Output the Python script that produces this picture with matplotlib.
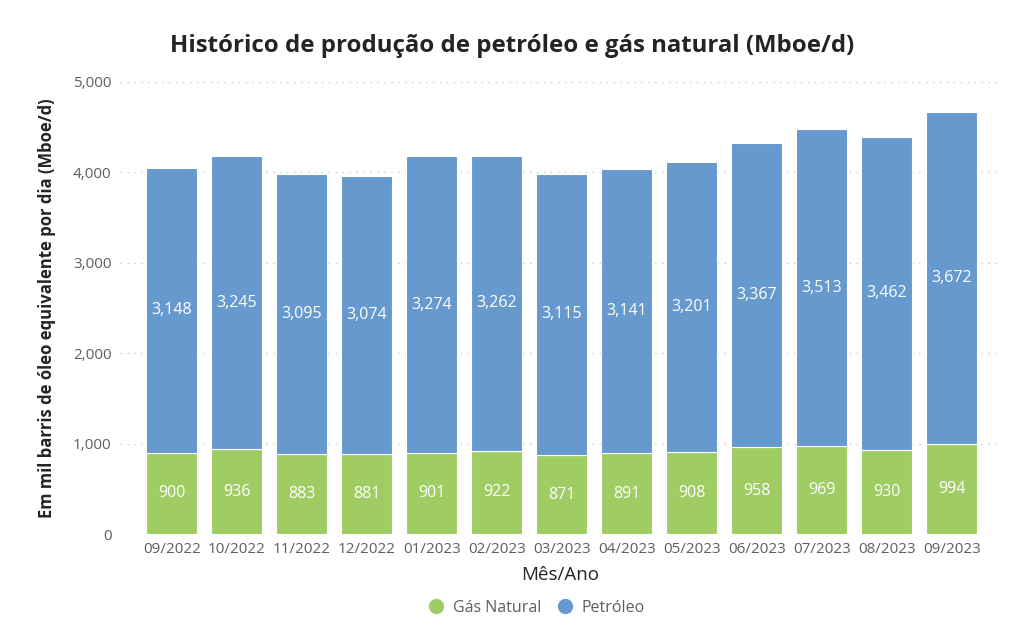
import numpy as np
import matplotlib.pyplot as plt
import matplotlib.ticker as ticker
from matplotlib.lines import Line2D

# ── Dados ────────────────────────────────────────────────────────────────────
meses = ["09/2022", "10/2022", "11/2022", "12/2022", "01/2023", "02/2023", "03/2023",
         "04/2023", "05/2023", "06/2023", "07/2023", "08/2023", "09/2023"]
gas = [900, 936, 883, 881, 901, 922, 871, 891, 908, 958, 969, 930, 994]
petroleo = [3148, 3245, 3095, 3074, 3274, 3262, 3115, 3141, 3201, 3367, 3513, 3462, 3672]

COR_GAS = "#A0CD63"
COR_PET = "#6699CE"

plt.rcParams["font.family"] = ["Open Sans", "DejaVu Sans"]

fig = plt.figure(figsize=(10.24, 6.25), dpi=100)
ax = fig.add_axes([0.117, 0.1456, 0.86, 0.7234])

x = np.arange(len(meses))
gas = np.array(gas)
petroleo = np.array(petroleo)

ax.bar(x, gas, width=0.78, color=COR_GAS, edgecolor="white", linewidth=0.8, zorder=3)
ax.bar(x, petroleo, width=0.78, bottom=gas, color=COR_PET, edgecolor="white",
       linewidth=0.8, zorder=3)

for i in range(len(meses)):
    ax.text(x[i], gas[i] / 2, f"{gas[i]:,}", ha="center", va="center",
            color="white", fontsize=11.5, zorder=4)
    ax.text(x[i], gas[i] + petroleo[i] / 2, f"{petroleo[i]:,}", ha="center",
            va="center", color="white", fontsize=11.5, zorder=4)

ax.set_xlim(-0.8, 12.75)
ax.set_ylim(0, 5000)
ax.set_xticks(x)
ax.set_xticklabels(meses)
ax.set_yticks(np.arange(0, 5001, 1000))
ax.yaxis.set_major_formatter(ticker.FuncFormatter(lambda v, p: f"{int(v):,}"))
ax.tick_params(axis="both", length=0, labelsize=11, labelcolor="#605E5C", pad=6)
ax.grid(axis="y", color="#C8C8C8", linestyle=(0, (1, 4)), linewidth=1, zorder=0)
for s in ax.spines.values():
    s.set_visible(False)

ax.set_xlabel("Mês/Ano", fontsize=13.5, color="#252423", labelpad=6)
ax.set_ylabel("Em mil barris de óleo equivalente por dia (Mboe/d)", fontsize=12,
              fontweight="bold", color="#252423", labelpad=12)
fig.suptitle("Histórico de produção de petróleo e gás natural (Mboe/d)",
             fontsize=17.3, fontweight="bold", color="#252423", y=0.945)

handles = [Line2D([], [], marker="o", linestyle="", markersize=10, color=COR_GAS),
           Line2D([], [], marker="o", linestyle="", markersize=10, color=COR_PET)]
fig.legend(handles, ["Gás Natural", "Petróleo"], loc="lower center",
           bbox_to_anchor=(0.52, -0.008), ncol=2, frameon=False, fontsize=11.5,
           handletextpad=0.05, columnspacing=0.5, labelcolor="#605E5C")

fig.savefig("out.png", dpi=100)
